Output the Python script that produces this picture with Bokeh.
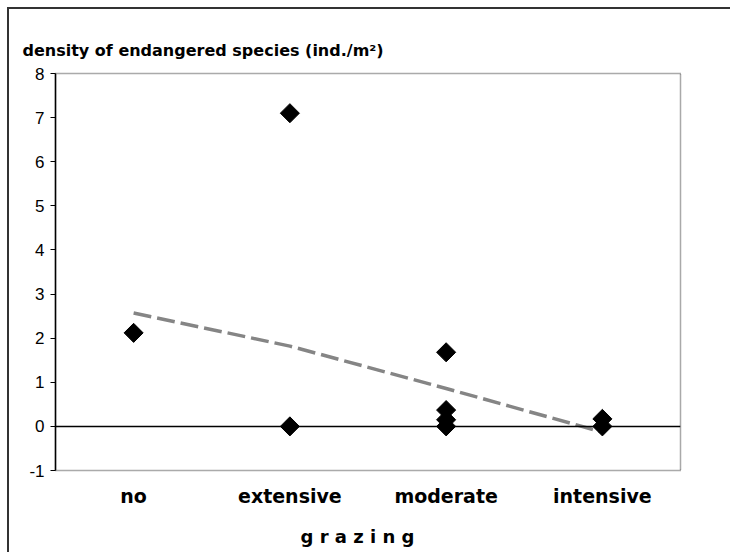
import math
from bokeh.plotting import figure
from bokeh.models import Span, Title, FixedTicker, ColumnDataSource
from bokeh.embed import file_html
from bokeh.resources import INLINE

# ---- data ----
categories = ["no", "extensive", "moderate", "intensive"]
point_cats = ["no", "extensive", "extensive", "moderate", "moderate", "moderate", "moderate", "intensive", "intensive"]
point_vals = [2.12, 7.1, 0.0, 1.68, 0.37, 0.15, 0.0, 0.17, 0.0]
trend_cats = ["no", "extensive", "moderate", "intensive"]
trend_vals = [2.57, 1.82, 0.86, -0.13]
y_ticks = [-1, 0, 1, 2, 3, 4, 5, 6, 7, 8]
y_tick_labels = {v: str(v) for v in y_ticks}
x_title = "g r a z i n g"
chart_title = "density of endangered species (ind./m\u00b2)"

p = figure(
    x_range=categories, y_range=(-1, 8),
    frame_width=625, frame_height=397,
    min_border_left=46, min_border_right=50, min_border_top=64, min_border_bottom=60,
    output_backend="svg", toolbar_location=None,
)
p.styles = {"border-left": "2px solid #333", "border-top": "2px solid #333",
            "margin-left": "7px", "margin-top": "7px"}

p.grid.visible = False
p.background_fill_color = "white"
p.border_fill_color = "white"
p.outline_line_color = "#555555"
p.outline_line_width = 1.5
p.outline_line_dash = "1 1"

# y axis
p.yaxis.ticker = FixedTicker(ticks=y_ticks)
p.yaxis.major_label_overrides = y_tick_labels
p.yaxis.minor_tick_line_color = None
p.yaxis.major_tick_out = 5
p.yaxis.major_tick_in = 0
p.yaxis.axis_line_color = "black"
p.yaxis.axis_line_width = 1.5
p.yaxis.major_tick_line_color = "black"
p.yaxis.major_label_text_font = "Liberation Sans"
p.yaxis.major_label_text_font_size = "17px"
p.yaxis.major_label_text_color = "black"
p.yaxis.major_label_standoff = 6

# x axis
p.xaxis.axis_line_color = None
p.xaxis.major_tick_line_color = None
p.xaxis.minor_tick_line_color = None
p.xaxis.major_label_text_font = "DejaVu Sans"
p.xaxis.major_label_text_font_style = "bold"
p.xaxis.major_label_text_font_size = "19px"
p.xaxis.major_label_text_color = "black"
p.xaxis.major_label_standoff = 8

# x axis title (slightly left of centre, as in the reference)
xt = Title(text=x_title, align="left",
           text_font="DejaVu Sans", text_font_style="bold", text_font_size="18px",
           text_color="black", offset=245, standoff=29)
p.add_layout(xt, "below")

# title
t = Title(text=chart_title, align="left",
          text_font="DejaVu Sans", text_font_style="bold", text_font_size="16px",
          text_color="black", offset=-33, standoff=28)
p.add_layout(t, "above")

# zero line
p.add_layout(Span(location=0, dimension="width", line_color="black", line_width=1.5))

# trend line
p.line(trend_cats, trend_vals, line_color="#858585", line_width=3.5, line_dash="18 6")

# points
src = ColumnDataSource(dict(x=point_cats, y=point_vals))
p.scatter("x", "y", source=src, marker="square", angle=math.pi / 4, size=13.5,
          fill_color="black", line_color="black")

open("out.html", "w").write(file_html(p, INLINE))
